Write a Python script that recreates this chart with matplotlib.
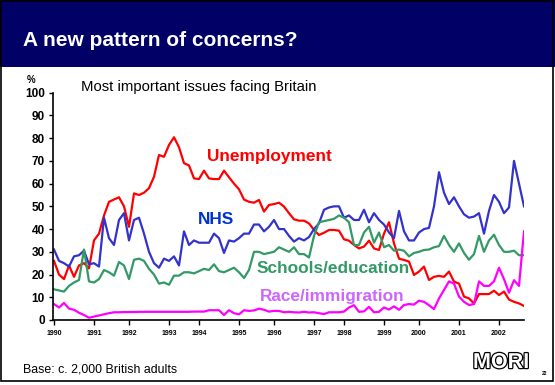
import matplotlib
matplotlib.use("Agg")
import matplotlib.pyplot as plt
from matplotlib.patches import Rectangle
import matplotlib.patheffects as pe

plt.rcParams['font.family'] = ['Liberation Sans', 'DejaVu Sans']

# one value per survey point
unemployment = [26, 20, 18, 24, 19, 24, 25, 22.7, 35, 38, 46, 52, 53, 54, 50, 41, 55.7, 55, 56, 58,
                63, 72.6, 71.8, 77, 80.4, 76, 69, 68, 62.3, 62, 65.7, 62.3, 62, 62, 65.7, 62.8, 60, 57.5, 53, 52,
                51.6, 52.8, 47.7, 50.6, 51, 51.6, 49.9, 47, 44.3, 43.7, 43.7, 42.5, 39.6, 37.4, 38.4, 39.6, 39.6, 39.3, 35.5, 34.9,
                33, 31.5, 32.3, 34.9, 31.5, 30.8, 38, 43, 33.7, 27, 26.4, 25.7, 19.8, 21.3, 23.5, 17.6, 19, 19.4, 19, 21.3,
                16.9, 16, 10.3, 9.5, 7.3, 11.4, 11.4, 11.4, 12.9, 11, 12.5, 9, 8, 7.3, 6.2]
nhs = [31, 26, 25, 23.5, 28, 28.5, 30.5, 24.5, 25, 23.5, 45, 36, 33, 44, 47, 35, 44, 45, 38, 30,
       25, 23, 27, 26, 28, 24, 39, 33, 35, 34, 34, 34, 38, 36, 29.5, 35, 34.5, 36, 38, 38,
       42, 42, 39, 41, 44, 40, 40, 37, 34.5, 36, 35, 36.5, 40, 42.5, 48.5, 49.5, 50, 50, 45, 46,
       44, 44, 48.5, 43, 47, 44, 42, 38.5, 36, 48, 39, 35, 35, 38.5, 40, 40.5, 50, 65, 56, 51,
       54, 50, 46.5, 45, 45.5, 47, 38, 48, 55, 52, 47, 49.5, 70, 60, 50]
schools = [13.5, 13, 12.5, 15, 16.5, 17.6, 31, 17, 16.5, 18, 22, 21, 19.5, 25.5, 24, 18, 26.5, 27, 26, 22.5,
           20, 16, 16.5, 15.5, 19.5, 19.5, 21, 21, 20.5, 21.5, 22.5, 22, 24.5, 21.5, 21, 22, 23, 21, 18.5, 22,
           30, 30, 29, 29.5, 30, 32, 31, 30, 32, 29, 29, 27.5, 37, 43, 43.5, 44, 44.5, 46, 45, 43,
           33, 33, 38.5, 41, 34, 38.5, 32, 33, 30.5, 31, 30.5, 28, 29.5, 30, 30.8, 31, 32, 32.5, 37, 33,
           30, 33.7, 29.5, 26.5, 29, 37, 30, 35, 37.5, 33, 30, 30, 30.5, 28.5, 28.5]
race = [7, 5.5, 7.5, 5, 4.5, 3.2, 2.2, 1, 1.5, 2, 2.5, 3, 3.4, 3.4, 3.5, 3.5, 3.5, 3.6, 3.6, 3.6,
        3.6, 3.6, 3.6, 3.6, 3.6, 3.6, 3.6, 3.6, 3.7, 3.7, 3.7, 4.3, 4.3, 4.3, 2.2, 4.3, 3, 2.5, 4.3, 4,
        4.2, 5, 4.5, 3.7, 4, 4, 3.4, 3.6, 3.4, 3.3, 3.6, 3.3, 3.4, 3, 2.6, 3.4, 3.4, 3.4, 3.7, 5.5,
        6.5, 3.6, 3.8, 5.8, 3.4, 3.6, 5.5, 4.6, 6, 4.5, 6.6, 7, 6.8, 8.5, 8, 6.5, 4.8, 9.5, 13.2, 17,
        16, 10.3, 8, 6.6, 7, 17, 15, 15, 17, 23, 18, 12, 17.5, 15, 39]

# survey index where each year starts
year_start = [0, 8, 15, 23, 29, 37, 44, 52, 58, 66, 73, 81, 89]
year_labels = ['1990', '1991', '1992', '1993', '1994', '1995', '1996',
               '1997', '1998', '1999', '2000', '2001', '2002']
y_ticks = list(range(0, 101, 10))

W, H = 555, 385


def fx(px):
    return px / W


def fy(py):
    return 1 - py / H


fig = plt.figure(figsize=(5.55, 3.85), dpi=100)
fig.patch.set_facecolor('white')

# header band and frame
fig.patches.append(Rectangle((0, fy(67)), 1, 67 / H, transform=fig.transFigure,
                             facecolor='#000066', edgecolor='none', zorder=0))
fig.patches.append(Rectangle((fx(1), fy(381)), fx(552), 380 / H, transform=fig.transFigure,
                             facecolor='none', edgecolor='black', lw=1.2, zorder=5))
fig.text(fx(23), fy(46), 'A new pattern of concerns?', color='white', fontsize=15,
         fontweight='bold', va='baseline', ha='left')

ax = fig.add_axes([fx(53), fy(320), fx(524) - fx(53), fy(92.7) - fy(320)])
x = list(range(len(unemployment)))
ax.plot(x, unemployment, color='#ff0000', lw=1.6)
ax.plot(x, nhs, color='#3333cc', lw=1.6)
ax.plot(x, schools, color='#339966', lw=1.6)
ax.plot(x, race, color='#ff00ff', lw=1.6)

ax.set_xlim(-0.2, len(x) - 1)
ax.set_ylim(0, 100)
ax.set_yticks(y_ticks)
ax.set_yticklabels([str(v) for v in y_ticks], fontsize=8.5, fontweight='bold')
ax.set_xticks(year_start)
ax.set_xticklabels(year_labels, fontsize=5, fontweight='bold')
ax.tick_params(axis='y', direction='out', length=3, width=1, pad=3)
ax.tick_params(axis='x', direction='out', length=3.6, width=1, pad=3.5)
for s in ['top', 'right']:
    ax.spines[s].set_visible(False)
for s in ['left', 'bottom']:
    ax.spines[s].set_linewidth(1.2)
ax.patch.set_alpha(0)

fig.text(fx(27), fy(83), '%', fontsize=7, fontweight='bold', ha='left', va='baseline')
fig.text(fx(81), fy(91), 'Most important issues facing Britain', fontsize=10.7,
         ha='left', va='baseline')

fig.text(fx(207), fy(160.5), 'Unemployment', color='#ff0000', fontsize=12.4,
         fontweight='bold', ha='left', va='baseline')
fig.text(fx(197.5), fy(224), 'NHS', color='#0033cc', fontsize=12.4,
         fontweight='bold', ha='left', va='baseline')
fig.text(fx(257), fy(273), 'Schools/education', color='#339966', fontsize=12.4,
         fontweight='bold', ha='left', va='baseline')
fig.text(fx(260), fy(301), 'Race/immigration', color='#cc66ff', fontsize=12.4,
         fontweight='bold', ha='left', va='baseline')

fig.text(fx(23), fy(372.5), 'Base: c. 2,000 British adults', fontsize=8.9,
         ha='left', va='baseline')
fig.text(fx(473), fy(368), 'MORI', fontsize=15.5, fontweight='bold', color='white',
         ha='left', va='baseline',
         path_effects=[pe.Stroke(linewidth=1.8, foreground='black'), pe.Normal()])
fig.text(fx(541.5), fy(375), '22', fontsize=3.5, fontweight='bold', ha='left', va='baseline')

fig.savefig('out.png', dpi=100)
